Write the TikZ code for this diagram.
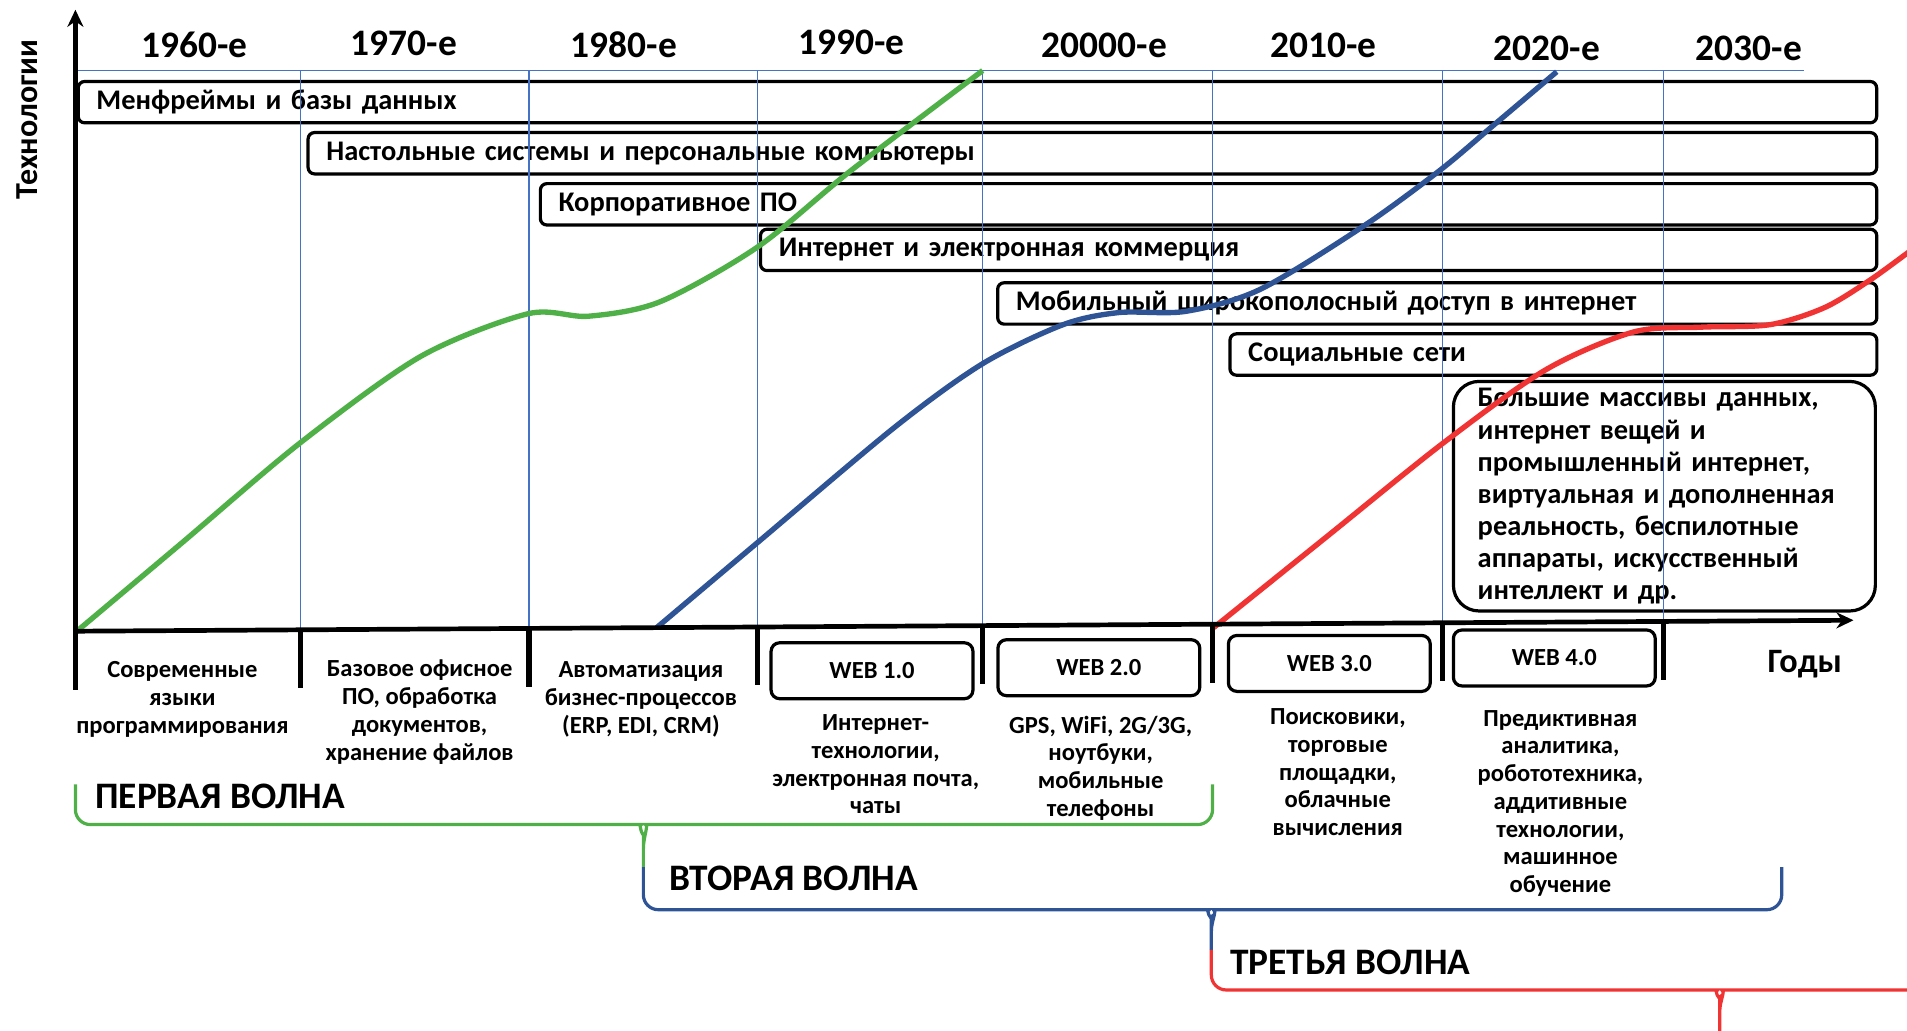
\documentclass[tikz,border=0pt]{standalone}
\usepackage{fontspec}
\setmainfont{Carlito}
\usetikzlibrary{positioning,arrows.meta}

\definecolor{wgreen}{RGB}{80,176,72}
\definecolor{wblue}{RGB}{47,84,150}
\definecolor{wred}{RGB}{240,52,52}
\definecolor{gridblue}{RGB}{68,114,196}

\begin{document}
\begin{tikzpicture}[x=0.02cm, y=-0.02cm,
  bar/.style={draw, rounded corners=3pt, line width=1.5pt, anchor=west, minimum height=0.68cm,
    inner xsep=0.3cm, inner ysep=1pt, text width=#1, align=left, font=\bfseries\fontsize{13.3}{15}\selectfont},
  web/.style={draw, rounded corners=4pt, line width=1.5pt, minimum width=3.32cm, minimum height=0.92cm,
    font=\bfseries\fontsize{11.5}{13}\selectfont},
  note/.style={align=center, inner sep=0pt, font=\bfseries\fontsize{11.5}{13}\selectfont},
  dec/.style={font=\bfseries\fontsize{17.5}{20}\selectfont},
  wave/.style={anchor=west, inner sep=0pt, font=\bfseries\fontsize{17.5}{20}\selectfont},
  axis/.style={line width=2.2pt}, tickmark/.style={line width=2.4pt},
  grid/.style={gridblue, line width=0.6pt},
  curve/.style={line width=2.5pt, smooth, tension=0.5},
  brc/.style={line width=1.5pt, rounded corners=7pt},
  >={Stealth[length=8pt, width=7.5pt]}]
\useasboundingbox (0,0) rectangle (1568,847);

% technology bars
\node[bar=28.98cm] (mainfr) at (63,84) {Менфреймы и базы данных};
\node[bar=25.20cm] (desk) at (252,126) {Настольные системы и персональные компьютеры};
\node[bar=21.38cm] (corp) at (443,168) {Корпоративное ПО};
\node[bar=17.76cm] (inet) at (624,205.5) {Интернет и электронная коммерция};
\node[bar=13.86cm] (mobile) at (819,249.5) {Мобильный широкополосный доступ в интернет};
\node[bar=10.04cm] (social) at (1010,291.5) {Социальные сети};
\node[draw, rounded corners=12pt, line width=1.5pt, minimum width=6.94cm, minimum height=3.72cm,
  inner xsep=0.4cm, text width=6.14cm, align=left, font=\bfseries\fontsize{13.3}{15}\selectfont] (bigdata) at (1368.5,408)
  {Большие массивы данных,\\ интернет вещей и\\ промышленный интернет,\\ виртуальная и дополненная\\ реальность, беспилотные\\ аппараты, искусственный\\ интеллект и др.};

% decades
\foreach \x/\y/\lbl [count=\i] in {160/37/1960-е, 332/36/1970-е, 513/37/1980-е, 700/35/1990-е,
  908/37/20000-е, 1088/37/2010-е, 1272/40/2020-е, 1438/40/2030-е}
  \node[dec] (dec\i) at (\x,\y) {\lbl};
\draw[grid] (62,58) -- (1483,58);
\foreach \x/\y in {247/517.9, 435/516.7, 623/515.5, 808/514.4, 997/513.2, 1186/512.1, 1368/511}
  \draw[grid] (\x,58) -- (\x,\y);

% waves
\draw[curve, wgreen] plot coordinates {(62,520) (150,446) (247,364) (346,293) (434,258) (484,260)
  (543,248) (623,203) (700,140) (808,58)};
\draw[curve, wblue] plot coordinates {(540,516) (623,446) (736,351) (808,299) (874,267) (920,257)
  (975,256) (1036,238) (1121,186) (1184,140) (1228,103) (1280,59)};
\draw[curve, wred] plot coordinates {(998,516) (1090,442) (1187,364) (1271,304) (1343,273) (1399,269)
  (1455,267) (1500,253) (1538,230) (1575,203)};

% axes
\coordinate (O) at (62,519);
\coordinate (ytop) at (62,8);
\coordinate (xend) at (1524,510);
\draw[axis, ->] (62,521) -- (ytop);
\draw[axis, ->] (O) -- (xend);
\foreach \x/\y in {62/519, 247/517.9, 435/516.7, 623/515.5, 808/514.4, 997/513.2, 1186/512.1, 1368/511}
  \draw[tickmark] (\x,\y) -- ++(0,48);
\node[rotate=90, font=\bfseries\fontsize{15}{18}\selectfont] (tech) at (22,98) {Технологии};
\node[font=\bfseries\fontsize{16}{18}\selectfont] (years) at (1484,546) {Годы};

% periods
\node[note] (n1) at (150,575) {Современные\\ языки\\ программирования};
\node[note] (n2) at (345,585.5) {Базовое офисное\\ ПО, обработка\\ документов,\\ хранение файлов};
\node[note] (n3) at (527,575) {Автоматизация\\ бизнес-процессов\\ (ERP, EDI, CRM)};
\node[web] (w1) at (717,551.5) {WEB 1.0};
\node[web] (w2) at (903.5,549) {WEB 2.0};
\node[web] (w3) at (1093,545.5) {WEB 3.0};
\node[web] (w4) at (1278,541) {WEB 4.0};
\node[note] (n4) at (720,628.5) {Интернет-\\ технологии,\\ электронная почта,\\ чаты};
\node[note] (n5) at (905,631.5) {GPS, WiFi, 2G/3G,\\ ноутбуки,\\ мобильные\\ телефоны};
\node[note] (n6) at (1100,635) {Поисковики,\\ торговые\\ площадки,\\ облачные\\ вычисления};
\node[note] (n7) at (1283,660.5) {Предиктивная\\ аналитика,\\ робототехника,\\ аддитивные\\ технологии,\\ машинное\\ обучение};

% braces
\draw[brc, wgreen] (62,645) -- (62,678) -- (515,678) to[out=0, in=90] (529,698) -- (529,713)
  (529,698) to[out=90, in=180] (543,678) -- (997,678) -- (997,645);
\draw[brc, wblue] (529,713) -- (529,748) -- (982,748) to[out=0, in=90] (996,766) -- (996,781)
  (996,766) to[out=90, in=180] (1010,748) -- (1465,748) -- (1465,713);
\draw[brc, wred] (996,781) -- (996,814) -- (1400,814) to[out=0, in=90] (1414,832) -- (1414,850)
  (1414,832) to[out=90, in=180] (1428,814) -- (1580,814);
\node[wave] (wave1) at (78,655) {ПЕРВАЯ ВОЛНА};
\node[wave] (wave2) at (550,722) {ВТОРАЯ ВОЛНА};
\node[wave] (wave3) at (1011,791) {ТРЕТЬЯ ВОЛНА};
\end{tikzpicture}
\end{document}
